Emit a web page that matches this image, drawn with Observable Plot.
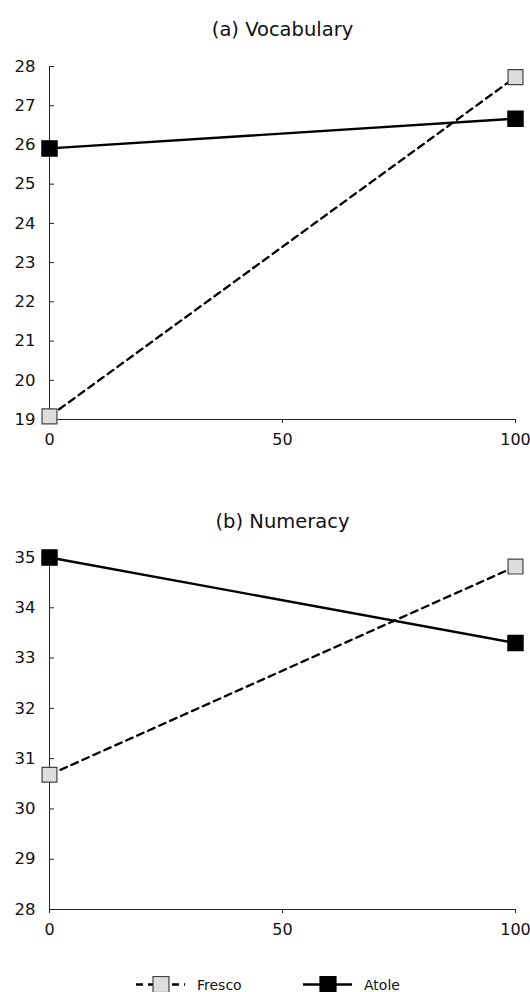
<!DOCTYPE html>
<html>
<head>
<meta charset="utf-8">
<script src="https://cdn.jsdelivr.net/npm/d3@7"></script>
<script src="https://cdn.jsdelivr.net/npm/@observablehq/plot@0.6"></script>
<style>
  html, body { margin: 0; padding: 0; background: #fff; }
  body { width: 530px; font-family: "DejaVu Sans", sans-serif; }
  svg { display: block; }
  #legend { height: 52px; position: relative; font-size: 14px; color: #111; }
  .item { position: absolute; top: 36px; display: flex; align-items: center; height: 17px; }
  .item span { margin-left: 12px; }
</style>
</head>
<body>
<div id="chart"></div>
<div id="legend"></div>
<script>
// Amount of supplement (x) and outcome scores by group
const doses = [0, 100];
const groups = ["Fresco", "Atole"];

const vocabFresco = [19.08, 27.73];
const vocabAtole = [25.91, 26.67];
const numerFresco = [30.68, 34.82];
const numerAtole = [35.0, 33.30];

const vocabTicks = [19, 20, 21, 22, 23, 24, 25, 26, 27, 28];
const numerTicks = [28, 29, 30, 31, 32, 33, 34, 35];
const xTicks = [0, 50, 100];

const panels = [
  {title: "(a) Vocabulary", fresco: vocabFresco, atole: vocabAtole, ticks: vocabTicks, marginTop: 66, marginBottom: 51, height: 470, titleDy: -37},
  {title: "(b) Numeracy", fresco: numerFresco, atole: numerAtole, ticks: numerTicks, marginTop: 87, marginBottom: 31, height: 470, titleDy: -36}
];

const W = 530, ML = 49, MR = 15;
const styleBy = {
  Fresco: {fill: "#dddddd", stroke: "#444444", r: 8.4, dash: "7,5"},
  Atole: {fill: "#000000", stroke: "#000000", r: 8.6, dash: null}
};

for (const p of panels) {
  const rows = [];
  doses.forEach((d, i) => {
    rows.push({group: "Fresco", dose: d, value: p.fresco[i]});
    rows.push({group: "Atole", dose: d, value: p.atole[i]});
  });
  const dom = [p.ticks[0], p.ticks[p.ticks.length - 1]];
  const frameW = W - ML - MR;
  const marks = [
    Plot.frame({anchor: "left", stroke: "#222"}),
    Plot.frame({anchor: "bottom", stroke: "#222"}),
    Plot.tickY(p.ticks, {y: d => d, stroke: "#222", insetRight: frameW - 5}),
    Plot.axisY({ticks: p.ticks, label: null, tickSize: 0, tickPadding: 14, fontSize: 16.5, tickFormat: d => String(d)}),
    Plot.axisX({ticks: xTicks, label: null, tickSize: 4, tickPadding: 10, fontSize: 16, stroke: "#222", tickFormat: d => String(d)}),
    Plot.text([p.title], {text: d => d, frameAnchor: "top", dy: p.titleDy, fontSize: 19.5, lineAnchor: "middle", fill: "#111"})
  ];
  for (const g of groups) {
    const s = styleBy[g];
    const data = rows.filter(r => r.group === g);
    marks.push(Plot.line(data, {x: "dose", y: "value", stroke: "#000", strokeWidth: 2.3, strokeDasharray: s.dash}));
  }
  for (const g of groups) {
    const s = styleBy[g];
    const data = rows.filter(r => r.group === g);
    marks.push(Plot.dot(data, {x: "dose", y: "value", symbol: "square", r: s.r, fill: s.fill, stroke: s.stroke, strokeWidth: 1.2}));
  }
  const svg = Plot.plot({
    width: W,
    height: p.height,
    marginLeft: ML,
    marginRight: MR,
    marginTop: p.marginTop,
    marginBottom: p.marginBottom,
    style: {fontFamily: "DejaVu Sans, sans-serif", fontSize: "16px", color: "#111", background: "#fff"},
    x: {domain: [0, 100], axis: null},
    y: {domain: dom, axis: null},
    marks
  });
  document.getElementById("chart").appendChild(svg);
}

// Legend below the panels
const legend = document.getElementById("legend");
const legendItems = [
  {group: "Fresco", left: 136},
  {group: "Atole", left: 303}
];
for (const it of legendItems) {
  const s = styleBy[it.group];
  const div = document.createElement("div");
  div.className = "item";
  div.style.left = it.left + "px";
  const sw = d3.create("svg").attr("width", 49).attr("height", 17);
  sw.append("line").attr("x1", 0).attr("x2", 49).attr("y1", 8.5).attr("y2", 8.5)
    .attr("stroke", "#000").attr("stroke-width", 2.6)
    .attr("stroke-dasharray", s.dash ? "7,5" : null);
  sw.append("rect").attr("x", 17).attr("y", 0.5).attr("width", 16).attr("height", 16)
    .attr("fill", s.fill).attr("stroke", s.stroke).attr("stroke-width", 1.2);
  div.appendChild(sw.node());
  const label = document.createElement("span");
  label.textContent = it.group;
  div.appendChild(label);
  legend.appendChild(div);
}
</script>
</body>
</html>
